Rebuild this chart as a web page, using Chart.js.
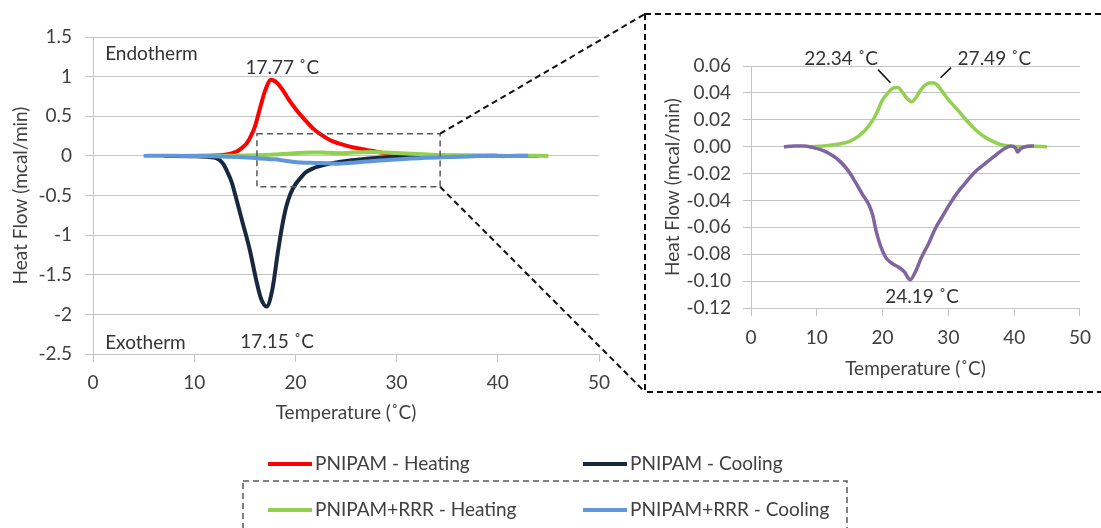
<!DOCTYPE html>
<html>
<head>
<meta charset="utf-8">
<script src="https://cdn.jsdelivr.net/npm/chart.js@4.4.1/dist/chart.umd.min.js"></script>
<style>
  body { margin: 0; background: #fff; }
  #wrap { position: relative; width: 1101px; height: 528px; overflow: hidden; background: #fff; }
  #mainChart { position: absolute; left: 0; top: 0; }
  #insetChart { position: absolute; left: 645px; top: 14px; }
  .leg { position: absolute; font: 19px Lato, sans-serif; color: #404040; line-height: 22px; white-space: nowrap; }
  .sw { position: absolute; width: 44px; height: 4px; }
</style>
</head>
<body>
<div id="wrap">
  <canvas id="mainChart" width="1101" height="528"></canvas>
  <canvas id="insetChart" width="456" height="378"></canvas>
  <div id="legend"></div>
</div>
<script>
// PNIPAM heating / cooling (big peaks)
const pnipamHeatT = [7, 10, 12, 13, 13.5, 14.2, 14.8, 15.2, 15.6, 16, 16.5, 17, 17.6, 18.2, 18.8, 19.4, 20.1, 20.9, 21.7, 22.5, 23.4, 24.2, 25.1, 26, 27, 28.5, 30, 32, 35, 40, 44]
const pnipamHeatQ = [0, 0, 0.005, 0.015, 0.025, 0.055, 0.11, 0.16, 0.25, 0.37, 0.6, 0.82, 0.96, 0.92, 0.82, 0.7, 0.58, 0.46, 0.35, 0.27, 0.2, 0.16, 0.126, 0.1, 0.076, 0.04, 0.015, 0.005, 0.002, 0, 0]
const pnipamCoolT = [7, 10, 11.5, 12.2, 12.8, 13.2, 13.7, 14.2, 14.8, 15.5, 16.1, 16.6, 17.15, 17.7, 18.3, 18.7, 19.1, 19.5, 20, 20.5, 21, 21.7, 22.4, 23.5, 25, 27, 30, 34, 38, 43]
const pnipamCoolQ = [0, -0.005, -0.015, -0.03, -0.09, -0.18, -0.33, -0.56, -0.85, -1.19, -1.55, -1.8, -1.9, -1.7, -1.19, -0.88, -0.64, -0.48, -0.36, -0.28, -0.21, -0.16, -0.13, -0.095, -0.065, -0.035, -0.015, -0.005, 0, 0]

// PNIPAM+RRR heating / cooling (small peaks, also shown in the inset)
const rrrHeatT = [9, 11, 13.4, 15, 16.4, 17.5, 18.4, 19.2, 19.9, 20.8, 21.6, 22.34, 23, 23.7, 24.4, 25, 25.7, 26.5, 27.49, 28.3, 29, 30, 31.5, 32.5, 33.5, 35, 36.5, 38, 39.5, 41, 43, 45]
const rrrHeatQ = [0, 0.0005, 0.002, 0.004, 0.008, 0.013, 0.019, 0.026, 0.034, 0.04, 0.0435, 0.044, 0.0405, 0.036, 0.0335, 0.036, 0.0415, 0.046, 0.0475, 0.046, 0.0415, 0.035, 0.0268, 0.021, 0.0156, 0.009, 0.0045, 0.0015, 0.0003, 0, 0.0003, 0]
const rrrCoolT = [5, 6.5, 8, 9.3, 11, 12.5, 13.4, 14.8, 16, 17, 17.9, 18.5, 19, 19.7, 20.5, 21.5, 22.4, 23.3, 24.19, 25, 25.9, 27, 28, 29.2, 30.3, 31.4, 32.5, 34, 35.5, 37, 38.5, 39.5, 40.2, 40.5, 41, 42, 43]
const rrrCoolQ = [0, 0.0005, 0.0005, -0.0005, -0.003, -0.007, -0.0104, -0.018, -0.0275, -0.036, -0.043, -0.051, -0.0625, -0.074, -0.0825, -0.087, -0.0895, -0.093, -0.099, -0.093, -0.0825, -0.072, -0.061, -0.051, -0.042, -0.034, -0.0275, -0.019, -0.013, -0.007, -0.0015, 0.0005, -0.001, -0.004, -0.0015, 0.0003, 0.0005]

const seriesNames = ['PNIPAM - Heating', 'PNIPAM - Cooling', 'PNIPAM+RRR - Heating', 'PNIPAM+RRR - Cooling']
const seriesColors = ['#ff0000', '#17283f', '#92d050', '#5f96dc']
const insetCoolColor = '#8064a2'

// axis ranges / ticks
const mainX = [0, 50, 10]
const mainY = [-2.5, 1.5, 0.5]
const insetY = [-0.12, 0.06, 0.02]

// dashed zoom region on the main chart (data units)
const zoomT = [16.2, 34.3]
const zoomQ = [-0.39, 0.28]

const FONT = 'Lato, sans-serif'
const TXT = '#404040'
const GRID = '#c4c4c4'

function pts (t, q) {
  return t.map((v, i) => ({ x: v, y: q[i] }))
}

function ds (label, t, q, color, width, order) {
  return {
    label,
    data: pts(t, q),
    borderColor: color,
    backgroundColor: color,
    borderWidth: width,
    pointRadius: 0,
    cubicInterpolationMode: 'monotone',
    fill: false,
    order
  }
}

function axisX (titlePad, height, tickPad) {
  return {
    type: 'linear',
    min: mainX[0],
    max: mainX[1],
    ticks: { stepSize: mainX[2], color: TXT, font: { family: FONT, size: 19 }, padding: tickPad, maxRotation: 0 },
    grid: { drawOnChartArea: false, drawTicks: true, tickLength: 8, color: GRID },
    border: { color: GRID },
    title: { display: true, text: 'Temperature (˚C)', color: TXT, font: { family: FONT, size: 19 }, padding: { top: 0, bottom: titlePad } },
    afterFit (s) { s.height = height }
  }
}

function text (ctx, str, x, y, align) {
  ctx.font = '19px ' + FONT
  ctx.fillStyle = '#333333'
  ctx.textAlign = align || 'center'
  ctx.textBaseline = 'middle'
  ctx.fillText(str, x, y)
}

// Annotations, zoom box, connectors and legend frame
const mainExtras = {
  id: 'mainExtras',
  afterDraw (chart) {
    const { ctx, scales: { x, y } } = chart
    ctx.save()
    text(ctx, 'Endotherm', x.getPixelForValue(1.2), y.getPixelForValue(1.29), 'left')
    text(ctx, 'Exotherm', x.getPixelForValue(1.2), y.getPixelForValue(-2.36), 'left')
    text(ctx, '17.77 ˚C', x.getPixelForValue(18.7), y.getPixelForValue(1.11))
    text(ctx, '17.15 ˚C', x.getPixelForValue(18.2), y.getPixelForValue(-2.35))

    const x0 = x.getPixelForValue(zoomT[0])
    const x1 = x.getPixelForValue(zoomT[1])
    const yt = y.getPixelForValue(zoomQ[1])
    const yb = y.getPixelForValue(zoomQ[0])
    ctx.setLineDash([6, 4])
    ctx.strokeStyle = '#595959'
    ctx.lineWidth = 1.5
    ctx.strokeRect(x0, yt, x1 - x0, yb - yt)

    // legend frame round the second row
    ctx.strokeRect(243, 481, 604, 60)

    // inset frame and connectors
    ctx.strokeStyle = '#111111'
    ctx.lineWidth = 2
    ctx.strokeRect(645, 14, 480, 378)
    ctx.beginPath()
    ctx.moveTo(x1, yt)
    ctx.lineTo(645, 14)
    ctx.moveTo(x1, yb)
    ctx.lineTo(645, 392)
    ctx.stroke()
    ctx.restore()
  }
}

const insetExtras = {
  id: 'insetExtras',
  afterDraw (chart) {
    const { ctx, scales: { x, y } } = chart
    ctx.save()
    text(ctx, '22.34 ˚C', x.getPixelForValue(13.7), y.getPixelForValue(0.0655))
    text(ctx, '27.49 ˚C', x.getPixelForValue(37.0), y.getPixelForValue(0.0655))
    text(ctx, '24.19 ˚C', x.getPixelForValue(26.0), y.getPixelForValue(-0.1116))
    ctx.strokeStyle = '#111111'
    ctx.lineWidth = 1.5
    ctx.beginPath()
    ctx.moveTo(x.getPixelForValue(19.3), y.getPixelForValue(0.0573))
    ctx.lineTo(x.getPixelForValue(21.2), y.getPixelForValue(0.0476))
    ctx.moveTo(x.getPixelForValue(30.4), y.getPixelForValue(0.0588))
    ctx.lineTo(x.getPixelForValue(28.8), y.getPixelForValue(0.0513))
    ctx.stroke()
    ctx.restore()
  }
}

new Chart(document.getElementById('mainChart'), {
  type: 'line',
  plugins: [mainExtras],
  data: {
    datasets: [
      ds(seriesNames[0], pnipamHeatT, pnipamHeatQ, seriesColors[0], 4, 3),
      ds(seriesNames[1], pnipamCoolT, pnipamCoolQ, seriesColors[1], 4, 2),
      ds(seriesNames[2], rrrHeatT, rrrHeatQ, seriesColors[2], 4, 1),
      ds(seriesNames[3], rrrCoolT, rrrCoolQ, seriesColors[3], 4, 0)
    ]
  },
  options: {
    responsive: false,
    animation: false,
    layout: { padding: { top: 37, right: 502, bottom: 98, left: 0 } },
    plugins: { legend: { display: false }, tooltip: { enabled: false } },
    scales: {
      x: axisX(6, 76, 9),
      y: {
        min: mainY[0],
        max: mainY[1],
        ticks: {
          stepSize: mainY[2],
          color: TXT,
          font: { family: FONT, size: 19 },
          padding: 13,
          callback: v => String(Math.round(v * 100) / 100)
        },
        grid: { color: GRID, tickLength: 8 },
        border: { color: GRID },
        title: { display: true, text: 'Heat Flow (mcal/min)', color: TXT, font: { family: FONT, size: 19 }, padding: { top: 9, bottom: 0 } },
        afterFit (s) { s.width = 93 }
      }
    }
  }
})

new Chart(document.getElementById('insetChart'), {
  type: 'line',
  plugins: [insetExtras],
  data: {
    datasets: [
      ds(seriesNames[2], rrrHeatT, rrrHeatQ, seriesColors[2], 3.5, 1),
      ds(seriesNames[3], rrrCoolT, rrrCoolQ, insetCoolColor, 3.5, 0)
    ]
  },
  options: {
    responsive: false,
    animation: false,
    layout: { padding: { top: 52, right: 18, bottom: 0, left: 0 } },
    plugins: { legend: { display: false }, tooltip: { enabled: false } },
    scales: {
      x: axisX(12, 84, 10),
      y: {
        min: insetY[0],
        max: insetY[1],
        ticks: {
          stepSize: insetY[2],
          color: TXT,
          font: { family: FONT, size: 19 },
          padding: 12,
          callback: v => (Math.abs(v) < 1e-9 ? 0 : v).toFixed(2)
        },
        grid: { color: GRID, tickLength: 8 },
        border: { color: GRID },
        title: { display: true, text: 'Heat Flow (mcal/min)', color: TXT, font: { family: FONT, size: 19 }, padding: { top: 16, bottom: 0 } },
        afterFit (s) { s.width = 106 }
      }
    }
  }
})

// HTML legend
const legCols = [268, 583]
const legRows = [464, 510]
const legend = document.getElementById('legend')
seriesNames.forEach((name, i) => {
  const cx = legCols[i % 2]
  const cy = legRows[Math.floor(i / 2)]
  const sw = document.createElement('div')
  sw.className = 'sw'
  sw.style.left = cx + 'px'
  sw.style.top = (cy - 2) + 'px'
  sw.style.background = seriesColors[i]
  legend.appendChild(sw)
  const lb = document.createElement('div')
  lb.className = 'leg'
  lb.style.left = (cx + 47) + 'px'
  lb.style.top = (cy - 12) + 'px'
  lb.textContent = name
  legend.appendChild(lb)
})
</script>
</body>
</html>
